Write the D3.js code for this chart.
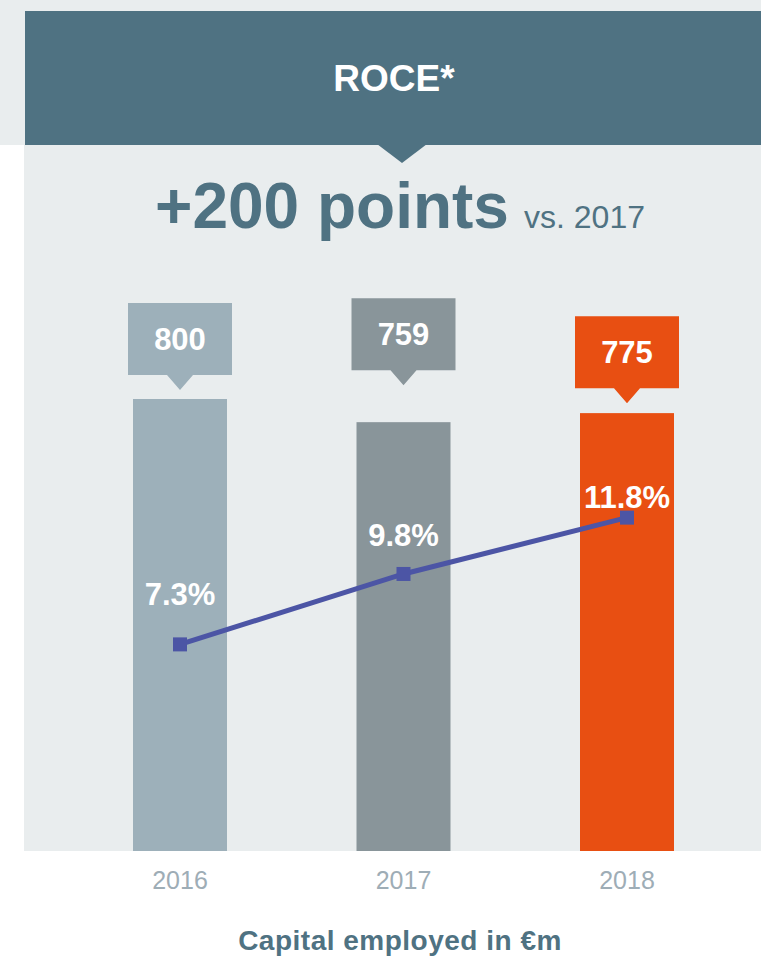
<!DOCTYPE html>
<html>
<head>
<meta charset="utf-8">
<script src="https://cdn.jsdelivr.net/npm/d3@7"></script>
<style>
  body { margin: 0; background: #fff; }
  svg { display: block; font-family: "Liberation Sans", Arial, sans-serif; }
</style>
</head>
<body>
<svg id="chart" width="761" height="957"></svg>
<script>
// data
var years = ["2016", "2017", "2018"];
var capital = [800, 759, 775];
var roce = [7.3, 9.8, 11.8];
var barColors = ["#9db0ba", "#89959a", "#e84f12"];

var W = 761, H = 957;
var panelGrey = "#e9edee", teal = "#4f7282", lineCol = "#4c55a5";
var base = 850;

var svg = d3.select("#chart");

// backgrounds
svg.append("rect").attr("x", 0).attr("y", 0).attr("width", W).attr("height", 145).attr("fill", panelGrey);
svg.append("rect").attr("x", 24).attr("y", 145).attr("width", W - 24).attr("height", base + 1 - 145).attr("fill", panelGrey);
svg.append("rect").attr("x", 25).attr("y", 11).attr("width", W - 25).attr("height", 134).attr("fill", teal);
svg.append("path").attr("d", "M377,144L427,144L402,163Z").attr("fill", teal);

svg.append("text").attr("x", 394).attr("y", 91).attr("text-anchor", "middle")
   .attr("fill", "#fff").style("font-size", "37px").style("font-weight", "bold").text("ROCE*");

svg.append("text").attr("x", 155).attr("y", 228).attr("fill", teal)
   .style("font-size", "64px").style("font-weight", "bold").text("+200 points");
svg.append("text").attr("x", 524).attr("y", 228).attr("fill", teal)
   .style("font-size", "32px").text("vs. 2017");

// scales
var x = d3.scalePoint().domain(years).range([180, 627]);
var yBar = d3.scaleLinear().domain([0, 800]).range([base + 1, 399]);
var yPct = d3.scaleLinear().domain([0, 12]).range([base, 512]);
var bw = 94;
var calloutGap = [24, 52, 25];

var g = svg.selectAll(".yr").data(years).enter().append("g").attr("class", "yr");

g.append("rect")
  .attr("x", function(d) { return x(d) - bw / 2; })
  .attr("y", function(d, i) { return yBar(capital[i]); })
  .attr("width", bw)
  .attr("height", function(d, i) { return base + 1 - yBar(capital[i]); })
  .attr("fill", function(d, i) { return barColors[i]; });

// value callouts
g.append("path")
  .attr("d", function(d, i) {
    var cx = x(d), b = yBar(capital[i]) - calloutGap[i];
    return "M" + (cx - 52) + "," + (b - 72) + "h104v72H" + (cx + 13) + "L" + cx + "," + (b + 15) + "L" + (cx - 13) + "," + b + "H" + (cx - 52) + "Z";
  })
  .attr("fill", function(d, i) { return barColors[i]; });

g.append("text")
  .attr("x", function(d) { return x(d); })
  .attr("y", function(d, i) { return yBar(capital[i]) - calloutGap[i] - 36 + 11; })
  .attr("text-anchor", "middle").attr("fill", "#fff")
  .style("font-size", "31px").style("font-weight", "bold")
  .text(function(d, i) { return capital[i]; });

// year labels
g.append("text")
  .attr("x", function(d) { return x(d); })
  .attr("y", 889)
  .attr("text-anchor", "middle").attr("fill", "#9eadb6")
  .style("font-size", "25px")
  .text(function(d) { return d; });

// ROCE line
var line = d3.line().x(function(d, i) { return x(years[i]); }).y(function(d) { return yPct(d); });
svg.append("path").datum(roce).attr("d", line).attr("fill", "none")
   .attr("stroke", lineCol).attr("stroke-width", 5);

svg.selectAll(".mk").data(roce).enter().append("rect").attr("class", "mk")
   .attr("x", function(d, i) { return x(years[i]) - 7; })
   .attr("y", function(d) { return yPct(d) - 7; })
   .attr("width", 14).attr("height", 14).attr("fill", lineCol);

var labelDy = [-39, -28, -10];
svg.selectAll(".pl").data(roce).enter().append("text").attr("class", "pl")
   .attr("x", function(d, i) { return x(years[i]); })
   .attr("y", function(d, i) { return yPct(d) + labelDy[i]; })
   .attr("text-anchor", "middle").attr("fill", "#fff")
   .style("font-size", "31px").style("font-weight", "bold")
   .text(function(d) { return d.toFixed(1) + "%"; });

svg.append("text").attr("x", 400).attr("y", 950).attr("text-anchor", "middle")
   .attr("fill", teal).style("font-size", "28px").style("font-weight", "bold")
   .style("letter-spacing", "0.5px")
   .text("Capital employed in €m");
</script>
</body>
</html>
